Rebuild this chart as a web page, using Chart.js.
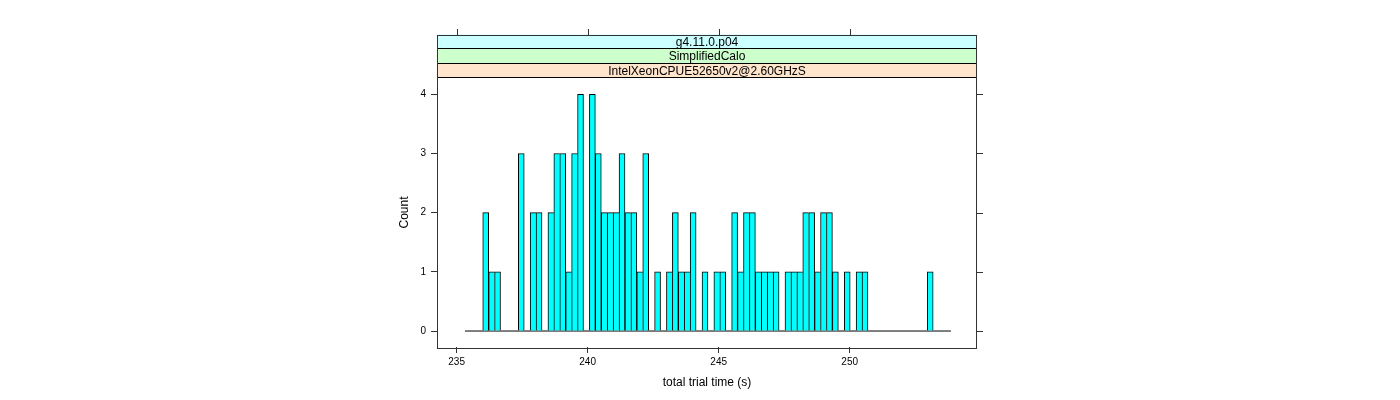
<!DOCTYPE html>
<html>
<head>
<meta charset="utf-8">
<script src="https://cdn.jsdelivr.net/npm/chart.js@4.4.0/dist/chart.umd.min.js"></script>
<style>
  html, body { margin: 0; padding: 0; background: #ffffff; }
  #wrap { width: 1400px; height: 400px; }
</style>
</head>
<body>
<div id="wrap"><canvas id="c" width="1400" height="400"></canvas></div>
<script>
// ---- data ----
const binStart = 235.317;      // left edge of first histogram bin (s)
const binWidth = 0.2262;       // histogram bin width (s)
const counts = [
  0, 0, 0, 2, 1, 1, 0, 0, 0, 3,
  0, 2, 2, 0, 2, 3, 3, 1, 3, 4,
  0, 4, 3, 2, 2, 2, 3, 2, 2, 1,
  3, 0, 1, 0, 1, 2, 1, 1, 2, 0,
  1, 0, 1, 1, 0, 2, 1, 2, 2, 1,
  1, 1, 1, 0, 1, 1, 1, 2, 2, 1,
  2, 2, 1, 0, 1, 0, 1, 1, 0, 0,
  0, 0, 0, 0, 0, 0, 0, 0, 1, 0,
  0, 0
];
const xTicks = [235, 240, 245, 250];
const yTicks = [0, 1, 2, 3, 4];
const stripLabels = ["g4.11.0.p04", "SimplifiedCalo", "IntelXeonCPUE52650v2@2.60GHzS"];
const xTitle = "total trial time (s)";
const yTitle = "Count";

// ---- build library data ----
const barData = counts.map((c, i) => ({ x: binStart + (i + 0.5) * binWidth, y: c }));
const baseData = [
  { x: binStart, y: 0 },
  { x: binStart + counts.length * binWidth, y: 0 }
];

Chart.defaults.font.family = '"Liberation Sans", Arial, Helvetica, sans-serif';
Chart.defaults.color = '#000000';

const LINE = '#333333';
const stripColors = ['#CCFFFF', '#CCFFCC', '#FFE5CC'];

const latticePlugin = {
  id: 'lattice',
  afterDraw(chart) {
    const ctx = chart.ctx;
    const a = chart.chartArea;
    const xs = chart.scales.x, ys = chart.scales.y;
    const stripH = 14.5;
    const nS = stripLabels.length;
    const top = a.top - nS * stripH;
    ctx.save();
    for (let i = 0; i < nS; i++) {
      const y0 = top + i * stripH;
      ctx.fillStyle = stripColors[i];
      ctx.fillRect(a.left, y0, a.right - a.left, stripH);
    }
    ctx.strokeStyle = '#000000';
    ctx.lineWidth = 1;
    for (let i = 1; i <= nS; i++) {
      const y = Math.round(top + i * stripH) + 0.5;
      ctx.beginPath();
      ctx.moveTo(a.left, y - 1);
      ctx.lineTo(a.right, y - 1);
      ctx.stroke();
    }
    ctx.fillStyle = '#000000';
    ctx.font = '12px "Liberation Sans", Arial, sans-serif';
    ctx.textAlign = 'center';
    ctx.textBaseline = 'middle';
    for (let i = 0; i < nS; i++) {
      ctx.fillText(stripLabels[i], (a.left + a.right) / 2, top + i * stripH + stripH / 2 + 0.5);
    }
    ctx.strokeStyle = LINE;
    ctx.strokeRect(Math.round(a.left) + 0.5, Math.round(top) + 0.5,
                   Math.round(a.right - a.left) - 1, Math.round(a.bottom - top));
    ctx.beginPath();
    xTicks.forEach(v => {
      const px = Math.round(xs.getPixelForValue(v)) + 0.5;
      ctx.moveTo(px, Math.round(top));
      ctx.lineTo(px, Math.round(top) - 6);
    });
    yTicks.forEach(v => {
      const py = Math.round(ys.getPixelForValue(v)) + 0.5;
      ctx.moveTo(Math.round(a.right), py);
      ctx.lineTo(Math.round(a.right) + 6, py);
    });
    ctx.stroke();
    ctx.restore();
  }
};

new Chart(document.getElementById('c'), {
  data: {
    datasets: [
      {
        type: 'line',
        data: baseData,
        borderColor: '#000000',
        borderWidth: 1,
        pointRadius: 0,
        fill: false,
        order: 2
      },
      {
        type: 'bar',
        data: barData,
        backgroundColor: '#00FFFF',
        borderColor: '#000000',
        borderWidth: (c) => {
          const i = c.dataIndex;
          const own = counts[i] || 0;
          const next = counts[i + 1] || 0;
          return { left: 1, right: next < own ? 1 : 0, top: 1, bottom: 0 };
        },
        borderSkipped: 'start',
        barPercentage: 1.0,
        categoryPercentage: 1.0,
        grouped: false,
        order: 1
      }
    ]
  },
  options: {
    responsive: false,
    devicePixelRatio: 1,
    animation: false,
    events: [],
    layout: { padding: { left: 393, right: 423, top: 78, bottom: 6 } },
    plugins: { legend: { display: false }, tooltip: { enabled: false } },
    scales: {
      x: {
        type: 'linear',
        offset: false,
        min: 234.25,
        max: 254.86,
        afterBuildTicks: (s) => { s.ticks = xTicks.map(v => ({ value: v })); },
        afterFit: (s) => { s.height = 47; },
        grid: { display: true, offset: false, drawOnChartArea: false, drawTicks: true, tickLength: 6, color: LINE },
        border: { display: false },
        ticks: { font: { size: 10 }, color: '#000000', padding: 3, maxRotation: 0,
                 callback: (v) => String(v) },
        title: { display: true, text: xTitle, font: { size: 12 }, color: '#000000', padding: 4 }
      },
      y: {
        type: 'linear',
        min: -0.27,
        max: 4.275,
        afterBuildTicks: (s) => { s.ticks = yTicks.map(v => ({ value: v })); },
        afterFit: (s) => { s.width = 44; },
        grid: { display: true, drawOnChartArea: false, drawTicks: true, tickLength: 6, color: LINE },
        border: { display: false },
        ticks: { font: { size: 10 }, color: '#000000', padding: 5,
                 callback: (v) => String(v) },
        title: { display: true, text: yTitle, font: { size: 12 }, color: '#000000', padding: 4 }
      }
    }
  },
  plugins: [latticePlugin]
});
</script>
</body>
</html>
